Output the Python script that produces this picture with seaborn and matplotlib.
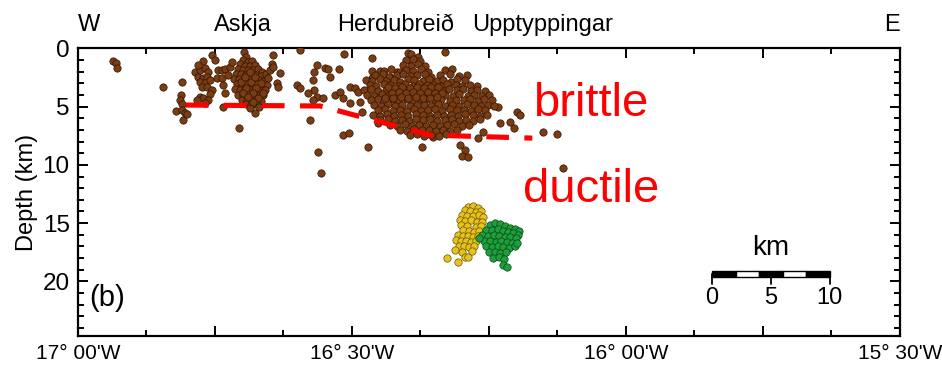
import matplotlib
matplotlib.use("Agg")
import matplotlib.pyplot as plt
import matplotlib.ticker as mticker
from matplotlib.patches import Rectangle
import seaborn as sns

# ---------------- data (longitude in decimal degrees, depth in km) ----------------
askja_lon = [-16.697, -16.693, -16.699, -16.690, -16.682, -16.704, -16.695, -16.686, -16.677,
             -16.708, -16.699, -16.690, -16.681, -16.672, -16.664, -16.712, -16.703, -16.693,
             -16.684, -16.675, -16.666, -16.657, -16.715, -16.706, -16.697, -16.688, -16.679,
             -16.670, -16.661, -16.710, -16.701, -16.692, -16.682, -16.673, -16.664, -16.655,
             -16.713, -16.704, -16.695, -16.686, -16.677, -16.668, -16.659, -16.708, -16.699,
             -16.690, -16.681, -16.672, -16.662, -16.701, -16.692, -16.682, -16.673, -16.666,
             -16.693, -16.684, -16.675, -16.686, -16.670, -16.650, -16.644, -16.653,
             -16.703, -16.684, -16.666, -16.693, -16.675, -16.699, -16.681, -16.662, -16.690,
             -16.672, -16.695, -16.677, -16.686, -16.681]
askja_dep = [0.30, 0.73, 0.99, 1.16, 1.07, 1.33, 1.50, 1.50, 1.42,
             1.76, 1.85, 1.85, 1.85, 1.76, 2.02, 2.19, 2.19, 2.28,
             2.19, 2.28, 2.36, 2.19, 2.62, 2.62, 2.71, 2.62, 2.71,
             2.71, 2.79, 3.05, 3.14, 3.05, 3.14, 3.05, 3.22, 3.14,
             3.48, 3.57, 3.48, 3.57, 3.57, 3.65, 3.57, 4.00, 4.00,
             3.91, 4.00, 4.08, 4.00, 4.43, 4.43, 4.34, 4.43, 4.51,
             4.77, 4.86, 4.77, 5.12, 5.03, 1.85, 1.59, 2.54,
             2.90, 2.90, 3.00, 3.40, 3.40, 3.80, 3.80, 3.80, 4.20,
             4.25, 2.45, 2.45, 2.05, 4.60]

askja_w_lon = [-16.772, -16.755, -16.750, -16.786, -16.777, -16.768, -16.763, -16.781, -16.772,
               -16.765, -16.777, -16.768, -16.774, -16.765, -16.755, -16.759, -16.777, -16.772,
               -16.763, -16.768, -16.783, -16.759, -16.781]
askja_w_dep = [1.07, 0.56, 0.99, 2.02, 1.85, 1.68, 2.02, 2.45, 2.54,
               2.45, 2.88, 2.97, 3.31, 3.31, 3.57, 3.91, 4.17, 4.26,
               4.43, 4.69, 4.43, 2.71, 1.42]

herd_lon = [-16.392, -16.380,
            -16.401, -16.388, -16.375,
            -16.407, -16.393, -16.380, -16.367,
            -16.441, -16.428, -16.413, -16.402, -16.389, -16.374, -16.361, -16.331, -16.317,
            -16.458, -16.444, -16.433, -16.418, -16.407, -16.392, -16.381, -16.366, -16.355,
            -16.340, -16.321, -16.304, -16.291,
            -16.475, -16.464, -16.449, -16.438, -16.423, -16.412, -16.397, -16.386, -16.371,
            -16.360, -16.345, -16.334, -16.319, -16.308, -16.293,
            -16.468, -16.456, -16.441, -16.430, -16.415, -16.404, -16.389, -16.378, -16.363,
            -16.352, -16.337, -16.326, -16.311, -16.300, -16.285, -16.272,
            -16.478, -16.465, -16.453, -16.438, -16.427, -16.412, -16.401, -16.386, -16.375,
            -16.360, -16.349, -16.334, -16.323, -16.308, -16.297, -16.282, -16.271, -16.258,
            -16.472, -16.460, -16.445, -16.434, -16.419, -16.408, -16.393, -16.382, -16.367,
            -16.356, -16.341, -16.330, -16.315, -16.304, -16.289, -16.278, -16.263, -16.250,
            -16.466, -16.453, -16.441, -16.426, -16.415, -16.400, -16.389, -16.374, -16.363,
            -16.348, -16.337, -16.322, -16.311, -16.296, -16.285, -16.270, -16.259, -16.244,
            -16.460, -16.447, -16.434, -16.421, -16.408, -16.395, -16.382, -16.369, -16.356,
            -16.343, -16.330, -16.317, -16.304, -16.291, -16.278, -16.265, -16.252, -16.241,
            -16.452, -16.439, -16.426, -16.413, -16.400, -16.387, -16.374, -16.361, -16.348,
            -16.335, -16.322, -16.309, -16.296, -16.283, -16.270, -16.257,
            -16.462, -16.449, -16.436, -16.423, -16.410, -16.397, -16.384, -16.371, -16.358,
            -16.345, -16.332, -16.319, -16.306, -16.293, -16.280, -16.267, -16.254,
            -16.448, -16.435, -16.422, -16.409, -16.396, -16.383, -16.370, -16.357, -16.344,
            -16.331, -16.318, -16.305, -16.292, -16.279, -16.266,
            -16.430, -16.417, -16.404, -16.391, -16.378, -16.365, -16.352, -16.339, -16.326,
            -16.313, -16.300, -16.287,
            -16.412, -16.399, -16.386, -16.373, -16.360, -16.347, -16.334, -16.321, -16.308,
            -16.394, -16.381, -16.368, -16.355, -16.342, -16.329,
            -16.434, -16.421, -16.408, -16.395, -16.382, -16.369, -16.356, -16.343,
            -16.427, -16.414, -16.401, -16.388, -16.375, -16.362, -16.349, -16.336,
            -16.440, -16.425, -16.410, -16.397, -16.384, -16.371, -16.358, -16.345]
herd_dep = [0.50, 0.72,
            1.02, 0.90, 1.10,
            1.40, 1.50, 1.32, 1.52,
            1.90, 1.78, 2.00, 1.82, 1.92, 1.72, 2.02, 1.88, 1.80,
            2.30, 2.18, 2.42, 2.28, 2.20, 2.40, 2.32, 2.18, 2.44,
            2.28, 2.20, 2.40, 2.30,
            2.70, 2.82, 2.62, 2.76, 2.68, 2.86, 2.64, 2.72, 2.80,
            2.60, 2.76, 2.70, 2.84, 2.66, 2.72,
            3.12, 3.22, 3.04, 3.16, 3.24, 3.08, 3.26, 3.04, 3.16,
            3.10, 3.22, 3.06, 3.14, 3.26, 3.10, 3.20,
            3.58, 3.50, 3.64, 3.54, 3.60, 3.48, 3.66, 3.56, 3.50,
            3.62, 3.54, 3.68, 3.52, 3.60, 3.48, 3.62, 3.56, 3.64,
            4.00, 4.08, 3.94, 4.04, 3.96, 4.10, 3.98, 4.06, 3.92,
            4.02, 4.10, 3.96, 4.04, 3.94, 4.08, 3.98, 4.06, 4.00,
            4.42, 4.34, 4.48, 4.38, 4.46, 4.32, 4.50, 4.40, 4.36,
            4.46, 4.34, 4.50, 4.40, 4.44, 4.32, 4.48, 4.38, 4.44,
            4.86, 4.94, 4.80, 4.90, 4.84, 4.96, 4.82, 4.88, 4.94,
            4.78, 4.90, 4.84, 4.96, 4.80, 4.88, 4.92, 4.84, 4.90,
            5.30, 5.22, 5.36, 5.26, 5.34, 5.20, 5.38, 5.28, 5.24,
            5.36, 5.22, 5.32, 5.26, 5.38, 5.24, 5.30,
            5.72, 5.80, 5.66, 5.76, 5.70, 5.82, 5.64, 5.74, 5.80,
            5.68, 5.76, 5.70, 5.82, 5.66, 5.74, 5.78, 5.70,
            6.14, 6.08, 6.22, 6.12, 6.20, 6.06, 6.18, 6.10, 6.24,
            6.12, 6.06, 6.20, 6.14, 6.22, 6.10,
            6.58, 6.66, 6.52, 6.62, 6.56, 6.68, 6.54, 6.64, 6.58,
            6.50, 6.66, 6.60,
            7.00, 7.08, 6.94, 7.04, 6.98, 7.10, 6.96, 7.06, 7.00,
            7.44, 7.36, 7.50, 7.40, 7.48, 7.38,
            3.34, 3.38, 3.30, 3.36, 3.32, 3.40, 3.34, 3.30,
            3.80, 3.76, 3.84, 3.78, 3.82, 3.74, 3.80, 3.86,
            4.22, 4.26, 4.18, 4.24, 4.20, 4.28, 4.22, 4.18]

sparse_lon = [-16.936, -16.931, -16.929, -16.845, -16.810, -16.812, -16.814, -16.810, -16.821,
              -16.810, -16.805, -16.808, -16.801, -16.745, -16.737, -16.732, -16.746, -16.737,
              -16.735, -16.732, -16.723, -16.719, -16.726, -16.735, -16.706, -16.677, -16.688,
              -16.699, -16.644, -16.646, -16.631, -16.637, -16.635, -16.595, -16.600, -16.595,
              -16.564, -16.569, -16.549, -16.544, -16.540, -16.524, -16.515, -16.569, -16.564,
              -16.580, -16.553, -16.571, -16.577, -16.516, -16.505, -16.571, -16.531, -16.522,
              -16.516, -16.504, -16.494, -16.489, -16.504, -16.485, -16.463, -16.463, -16.449,
              -16.463, -16.453, -16.482, -16.398, -16.394, -16.431, -16.418, -16.303, -16.294,
              -16.299, -16.288, -16.372, -16.352, -16.471, -16.199, -16.193, -16.212, -16.204,
              -16.151, -16.126, -16.115, -16.234, -16.230, -16.261, -16.270, -16.557, -16.562,
              -16.330]
sparse_dep = [1.07, 1.25, 1.68, 3.31, 2.88, 4.00, 4.43, 4.77, 5.37,
              5.29, 5.55, 6.15, 5.63, 1.85, 1.85, 1.76, 2.54, 2.54,
              3.14, 3.83, 1.59, 1.16, 2.28, 5.03, 6.84, 5.55, 4.86,
              4.26, 0.56, 1.33, 2.11, 2.97, 3.31, 0.10, 3.14, 3.40,
              1.42, 2.02, 1.68, 1.76, 2.45, 1.76, 0.47, 3.57, 4.17,
              3.83, 4.26, 4.43, 6.15, 7.44, 7.27, 2.71, 4.00, 3.74,
              4.26, 3.31, 3.40, 3.74, 4.69, 4.60, 0.82, 1.93, 1.93,
              2.54, 6.41, 5.46, 0.39, 0.99, 2.45, 2.02, 8.30, 8.73,
              9.24, 9.33, 8.47, 7.61, 8.47, 5.46, 5.72, 6.32, 6.84,
              7.18, 7.35, 10.28, 5.03, 6.41, 7.18, 7.70, 10.71, 8.90,
              0.30]

yellow_lon = [-16.288, -16.279, -16.270, -16.294, -16.285, -16.274, -16.265, -16.299, -16.290,
              -16.279, -16.268, -16.261, -16.303, -16.294, -16.283, -16.272, -16.263, -16.301,
              -16.290, -16.274, -16.265, -16.297, -16.286, -16.277, -16.268, -16.307, -16.297,
              -16.288, -16.279, -16.270, -16.310, -16.301, -16.292, -16.283, -16.274, -16.305,
              -16.296, -16.286, -16.277, -16.299, -16.294, -16.288, -16.307, -16.327, -16.312,
              -16.281]
yellow_dep = [13.63, 13.54, 13.71, 13.89, 13.97, 14.06, 13.97, 14.32, 14.40,
              14.40, 14.32, 14.49, 14.75, 14.83, 14.75, 14.92, 14.92, 15.18,
              15.26, 15.35, 15.26, 15.61, 15.69, 15.78, 15.69, 16.04, 16.12,
              16.12, 16.21, 16.12, 16.47, 16.55, 16.55, 16.64, 16.55, 16.98,
              16.98, 17.07, 16.98, 17.50, 17.93, 17.93, 18.36, 18.01, 17.33,
              17.41]

green_lon = [-16.248, -16.239, -16.230, -16.221, -16.212, -16.202, -16.195, -16.255, -16.245,
             -16.234, -16.224, -16.215, -16.206, -16.197, -16.263, -16.252, -16.241, -16.232,
             -16.221, -16.212, -16.201, -16.259, -16.248, -16.237, -16.228, -16.217, -16.208,
             -16.255, -16.245, -16.234, -16.224, -16.213, -16.250, -16.239, -16.230, -16.219,
             -16.243, -16.232, -16.223, -16.268, -16.224, -16.217, -16.202, -16.199]
green_dep = [15.18, 15.00, 15.09, 15.26, 15.43, 15.52, 15.69, 15.61, 15.61,
             15.52, 15.69, 15.78, 15.87, 16.04, 16.04, 16.12, 16.04, 16.12,
             16.21, 16.21, 16.29, 16.55, 16.55, 16.64, 16.55, 16.64, 16.72,
             16.98, 17.07, 16.98, 17.07, 17.15, 17.50, 17.50, 17.59, 17.50,
             18.01, 17.93, 18.10, 16.29, 18.62, 18.79, 16.98, 16.72]

fault_lon = [-16.803, -16.558, -16.358, -16.171]
fault_dep = [4.86, 4.94, 7.44, 7.70]

place_names = ["Askja", "Herdubreið", "Upptyppingar"]
place_lon = [-16.700, -16.420, -16.153]

scale_km = [0, 5, 10]
deg_per_km = 0.0215

# ---------------- figure ----------------
sns.set_style("ticks")
plt.rcParams["font.family"] = ["Liberation Sans", "DejaVu Sans"]
plt.rcParams["text.color"] = "black"
plt.rcParams["axes.labelcolor"] = "black"
plt.rcParams["xtick.color"] = "black"
plt.rcParams["ytick.color"] = "black"

fig = plt.figure(figsize=(9.42, 3.66), dpi=100)
ax = fig.add_axes([0.0828, 0.082, 0.8726, 0.7855])

brown = "#7a3c12"
brown_edge = "#2e1404"
kw = dict(s=28, linewidth=0.5, legend=False, ax=ax, zorder=3)
sns.scatterplot(x=sparse_lon, y=sparse_dep, color=brown, edgecolor=brown_edge, **kw)
sns.scatterplot(x=askja_w_lon, y=askja_w_dep, color=brown, edgecolor=brown_edge, **kw)
sns.scatterplot(x=askja_lon, y=askja_dep, color=brown, edgecolor=brown_edge, **kw)
sns.scatterplot(x=herd_lon, y=herd_dep, color=brown, edgecolor=brown_edge, **kw)
sns.scatterplot(x=yellow_lon, y=yellow_dep, color="#e6c21e", edgecolor="#6b5500", **kw)
sns.scatterplot(x=green_lon, y=green_dep, color="#1e9e3c", edgecolor="#0a4515", **kw)

ax.plot(fault_lon, fault_dep, color="#ff0000", linewidth=3.7, dashes=(4.4, 3.0),
        dash_capstyle="butt", zorder=4)

ax.set_xlim(-17.0, -15.5)
ax.set_ylim(24.7, 0)

def lon_fmt(v, pos):
    w = -v
    d = int(w + 1e-9)
    m = int(round((w - d) * 60))
    return f"{d}° {m:02d}'W"

ax.xaxis.set_major_locator(mticker.MultipleLocator(0.25))
ax.xaxis.set_minor_locator(mticker.MultipleLocator(0.125))
ax.xaxis.set_major_formatter(mticker.FuncFormatter(
    lambda v, p: lon_fmt(v, p) if abs(v * 2 - round(v * 2)) < 1e-6 else ""))
ax.yaxis.set_major_locator(mticker.MultipleLocator(5))
ax.yaxis.set_minor_locator(mticker.MultipleLocator(1))

ax.tick_params(axis="both", which="both", direction="in", width=1.4, colors="black")
ax.tick_params(axis="x", which="major", length=7, labelsize=15, pad=6, top=True)
ax.tick_params(axis="x", which="minor", length=4, top=True)
ax.tick_params(axis="y", which="major", length=7, labelsize=17.5, pad=6, right=True)
ax.tick_params(axis="y", which="minor", length=4, right=True)
for sp in ax.spines.values():
    sp.set_linewidth(1.6)
    sp.set_color("black")
    sp.set_visible(True)

ax.set_xlabel("")
ax.set_ylabel("Depth (km)", fontsize=17, labelpad=3)

# labels above the axes
for name, lon in zip(place_names, place_lon):
    ax.text(lon, 1.08, name, transform=ax.get_xaxis_transform(), ha="center",
            va="center", fontsize=17)
ax.text(0.0, 1.08, "W", transform=ax.transAxes, ha="left", va="center", fontsize=17)
ax.text(1.0, 1.08, "E", transform=ax.transAxes, ha="right", va="center", fontsize=17)

ax.text(-16.170, 5.8, "brittle", color="#ff0000", fontsize=34, ha="left", va="baseline")
ax.text(-16.188, 13.2, "ductile", color="#ff0000", fontsize=34, ha="left", va="baseline")
ax.text(-16.980, 21.4, "(b)", fontsize=21, ha="left", va="center")

# scale bar
x0 = -15.843
bar_y = 19.35
bar_h = 0.5
for i in range(5):
    xs = x0 + 2 * i * deg_per_km
    fc = "black" if i % 2 == 0 else "white"
    ax.add_patch(Rectangle((xs, bar_y - bar_h / 2), 2 * deg_per_km, bar_h,
                           facecolor=fc, edgecolor="black", linewidth=1.0, zorder=5))
for k in scale_km:
    xk = x0 + k * deg_per_km
    ax.plot([xk, xk], [bar_y, bar_y + 0.9], color="black", linewidth=1.3, zorder=5)
    ax.text(xk, 21.45, str(k), ha="center", va="center", fontsize=17)
ax.text(x0 + 5 * deg_per_km, 17.1, "km", ha="center", va="center", fontsize=20)

fig.savefig("out.png", dpi=100)
